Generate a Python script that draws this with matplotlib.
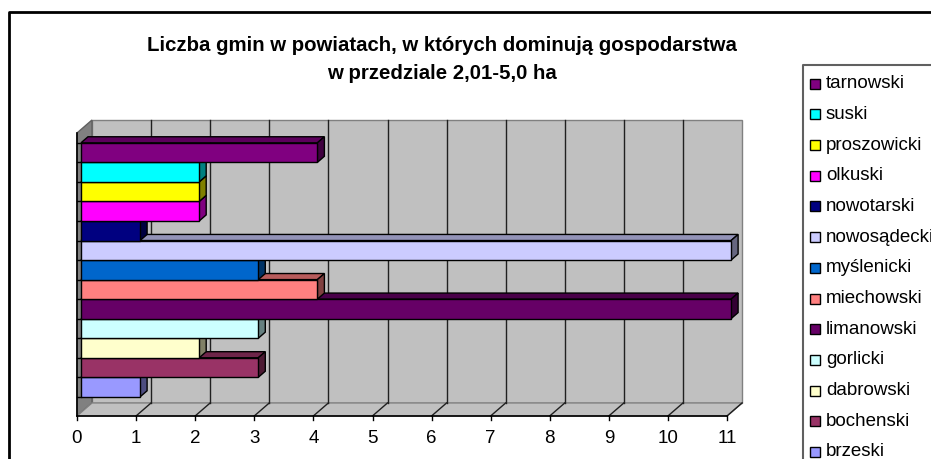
import numpy as np
import matplotlib.pyplot as plt
from matplotlib.patches import Polygon, Rectangle
from matplotlib.lines import Line2D
from matplotlib.colors import to_rgb

plt.rcParams['font.family'] = ['Liberation Sans', 'DejaVu Sans']

# data (bottom -> top, as drawn on the chart)
powiaty = ['brzeski', 'bochenski', 'dabrowski', 'gorlicki', 'limanowski', 'miechowski',
           'myślenicki', 'nowosądecki', 'nowotarski', 'olkuski', 'proszowicki', 'suski', 'tarnowski']
gminy = [1, 3, 2, 3, 11, 4, 3, 11, 1, 2, 2, 2, 4]
kolory = ['#9999FF', '#993366', '#FFFFCC', '#CCFFFF', '#660066', '#FF8080',
          '#0066CC', '#CCCCFF', '#000080', '#FF00FF', '#FFFF00', '#00FFFF', '#800080']
x_ticks = list(range(0, 12))
title = 'Liczba gmin w powiatach, w których dominują gospodarstwa\nw przedziale 2,01-5,0 ha'

W, H = 931, 459
fig = plt.figure(figsize=(W / 100, H / 100), dpi=100)
ax = fig.add_axes([0, 0, 1, 1])
ax.axis('off')

# pixel mapping of the front plane: x_px = 77 + 59.1*v ; y_px = 400.3 - 19.54*c
PXV, PXC = 59.1, 19.54
ax.set_xlim(-77 / PXV, (W - 77) / PXV)
ax.set_ylim((400.3 - H) / PXC, 400.3 / PXC)

# depth vector (full depth) in data units
DX, DY = 15 / PXV, 13 / PXC
def P(v, c, d):
    return (v + d * DX, c + d * DY)

c_lo, c_hi = -0.80, 13.68
vmax = 11
wall_edge = '#808080'

# back wall
ax.add_patch(Polygon([P(0, c_lo, 1), P(vmax, c_lo, 1), P(vmax, c_hi, 1), P(0, c_hi, 1)],
                     closed=True, facecolor='#C0C0C0', edgecolor=wall_edge, lw=1, zorder=1))
# left wall
ax.add_patch(Polygon([P(0, c_lo, 0), P(0, c_lo, 1), P(0, c_hi, 1), P(0, c_hi, 0)],
                     closed=True, facecolor='#808080', edgecolor='#606060', lw=1, zorder=1))
# floor
ax.add_patch(Polygon([P(0, c_lo, 0), P(vmax, c_lo, 0), P(vmax, c_lo, 1), P(0, c_lo, 1)],
                     closed=True, facecolor='#C0C0C0', edgecolor=wall_edge, lw=1, zorder=1))

# gridlines on back wall and floor
for v in x_ticks[1:-1]:
    x0, y0 = P(v, c_lo, 1)
    x1, y1 = P(v, c_hi, 1)
    ax.plot([x0, x1], [y0, y1], color='#202020', lw=1, zorder=2)
for v in x_ticks[1:]:
    x0, y0 = P(v, c_lo, 0)
    x1, y1 = P(v, c_lo, 1)
    ax.plot([x0, x1], [y0, y1], color='#202020', lw=1, zorder=2)

# axis lines
ax.plot([0, vmax], [c_lo, c_lo], color='black', lw=1.2, zorder=3)
ax.plot([0, 0], [c_lo, c_hi], color='black', lw=1.2, zorder=3)
for v in x_ticks:
    ax.plot([v, v], [c_lo, c_lo - 4 / PXC], color='black', lw=1, zorder=3)
    ax.text(v, c_lo - 26.7 / PXC, str(v), ha='center', va='baseline', fontsize=13.5, zorder=3)

# bars
d0, d1 = 4 / 15, 11 / 15
for i, (val, col) in enumerate(zip(gminy, kolory)):
    c0, c1 = i, i + 1
    rgb = np.array(to_rgb(col))
    z = 4 + i * 0.1
    top = [P(0, c1, d0), P(val, c1, d0), P(val, c1, d1), P(0, c1, d1)]
    side = [P(val, c0, d0), P(val, c0, d1), P(val, c1, d1), P(val, c1, d0)]
    front = [P(0, c0, d0), P(val, c0, d0), P(val, c1, d0), P(0, c1, d0)]
    ax.add_patch(Polygon(top, closed=True, facecolor=rgb * 0.72, edgecolor='black', lw=1, zorder=z))
    ax.add_patch(Polygon(side, closed=True, facecolor=rgb * 0.5, edgecolor='black', lw=1, zorder=z))
    ax.add_patch(Polygon(front, closed=True, facecolor=rgb, edgecolor='black', lw=1, zorder=z + 0.05))

# small category ticks on the left
for i in range(len(gminy) + 1):
    x0, y0 = P(0, i, d0)
    ax.plot([0, x0], [y0, y0], color='black', lw=1, zorder=3)

# title
fig.text(442 / W, 1 - 50.7 / H, title.split('\n')[0], ha='center', va='baseline',
         fontsize=14.7, fontweight='bold')
fig.text(442 / W, 1 - 79 / H, title.split('\n')[1], ha='center', va='baseline',
         fontsize=14.7, fontweight='bold')

# outer border
fig.add_artist(Line2D([8.5 / W, 8.5 / W, 1.01], [-0.01, 1 - 11.5 / H, 1 - 11.5 / H],
                      transform=fig.transFigure, color='black', lw=2))
# legend box
fig.add_artist(Line2D([803 / W, 803 / W, 1.01], [-0.01, 1 - 65 / H, 1 - 65 / H],
                      transform=fig.transFigure, color='#606060', lw=1.5))
for k, (name, col) in enumerate(zip(powiaty[::-1], kolory[::-1])):
    yc = 83.6 + 30.7 * k
    fig.add_artist(Rectangle((809.5 / W, 1 - (yc + 5) / H), 10 / W, 10 / H,
                             transform=fig.transFigure, facecolor=col, edgecolor='black', lw=1))
    fig.text(826 / W, 1 - (yc + 4.5) / H, name, ha='left', va='baseline', fontsize=13.5)

fig.savefig('out.png', dpi=100)
